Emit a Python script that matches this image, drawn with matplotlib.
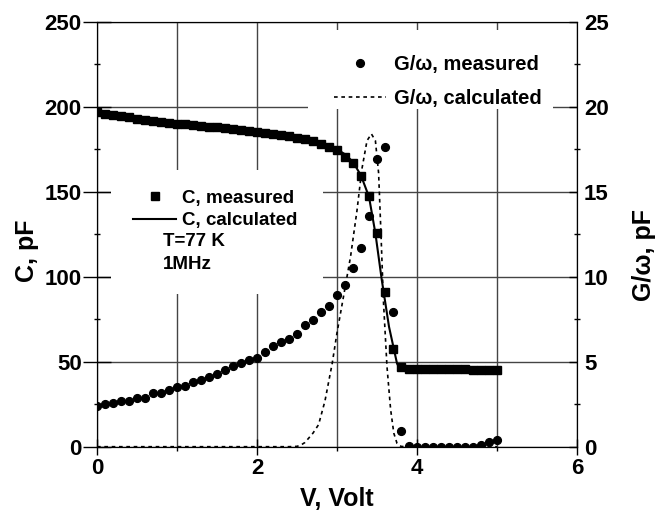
import numpy as np
import matplotlib
matplotlib.use("Agg")
import matplotlib.pyplot as plt
from matplotlib.patches import Rectangle

plt.rcParams['font.family'] = ['Liberation Sans', 'DejaVu Sans']

# measured points, 0.1 V steps
volts = np.round(np.arange(0, 5.01, 0.1), 2)
c_meas = [197.0, 196.0, 195.2, 194.4, 193.7, 193.0, 192.3, 191.7, 191.1, 190.6,
          190.1, 189.6, 189.1, 188.7, 188.2, 187.8, 187.3, 186.8, 186.3, 185.8,
          185.3, 184.7, 184.1, 183.4, 182.7, 181.8, 180.8, 179.6, 178.2, 176.5,
          174.5, 170.6, 166.7, 159.2, 147.6, 126.0, 90.8, 57.5, 47.0, 46.0,
          45.8, 45.7, 45.7, 45.6, 45.6, 45.5, 45.5, 45.4, 45.4, 45.3, 45.2]
g_meas = [2.4, 2.5, 2.55, 2.7, 2.7, 2.85, 2.85, 3.15, 3.15, 3.35,
          3.5, 3.6, 3.8, 3.95, 4.1, 4.25, 4.5, 4.75, 4.95, 5.1,
          5.2, 5.6, 5.9, 6.15, 6.35, 6.65, 7.15, 7.45, 7.9, 8.25,
          8.9, 9.5, 10.5, 11.7, 13.6, 16.9, 17.6, 7.9, 0.95, 0.05,
          0, 0, 0, 0, 0, 0, 0, 0, 0.1, 0.25, 0.4]

# calculated curves
v_ccalc = [0, 0.5, 1.0, 1.5, 2.0, 2.5, 2.8, 3.0, 3.1, 3.2, 3.3, 3.4, 3.48,
           3.56, 3.65, 3.75, 3.78, 3.8, 4.0, 5.0]
c_calc = [197, 193, 190.1, 187.8, 185.3, 181.8, 178.2, 175, 172, 167.5, 159.5,
          147, 125.5, 98, 70.6, 49, 46.3, 45.8, 45.6, 45.2]
v_gcalc = [0, 2.0, 2.4, 2.5, 2.55, 2.6, 2.7, 2.77, 2.85, 2.94, 3.0, 3.08, 3.17,
           3.25, 3.31, 3.375, 3.43, 3.48, 3.52, 3.55, 3.58, 3.625, 3.67, 3.71,
           3.75, 3.8, 3.85, 5.0]
g_calc = [0, 0, 0, 0.02, 0.1, 0.25, 0.8, 1.3, 2.7, 4.9, 6.7, 8.8, 11.2,
          13.9, 16.3, 18.0, 18.4, 18.0, 16.1, 12.5, 8.6, 4.7, 2.2, 0.8,
          0.2, 0.02, 0, 0]

fig = plt.figure(figsize=(6.65, 5.15), dpi=100)
ax = fig.add_axes([97 / 665, 1 - 446.7 / 515, 480 / 665, 425 / 515])
ax2 = ax.twinx()

ax.set_xlim(0, 6)
ax.set_ylim(0, 250)
ax2.set_ylim(0, 25)

ax.set_xticks([0, 2, 4, 6])
ax.set_xticks([1, 3, 5], minor=True)
ax.set_yticks(np.arange(0, 251, 50))
ax.set_yticks(np.arange(25, 250, 50), minor=True)
ax2.set_yticks(np.arange(0, 26, 5))
ax2.set_yticks(np.arange(2.5, 25, 5), minor=True)

ax.grid(True, which='both', axis='x', color='#444444', lw=1)
ax.grid(True, which='major', axis='y', color='#444444', lw=1)

# white areas behind the legends hide the grid
ax.add_patch(Rectangle((0.03, 0.36), 0.44, 0.292, transform=ax.transAxes,
                       fc='white', ec='none', zorder=1.6))
ax.add_patch(Rectangle((0.44, 0.795), 0.51, 0.185, transform=ax.transAxes,
                       fc='white', ec='none', zorder=1.6))

ax.plot(v_ccalc, c_calc, '-', color='black', lw=1.5, label='C, calculated', zorder=3)
ax.plot(volts, c_meas, 's', color='black', ms=5.6, label='C, measured', zorder=4)
ax2.plot(v_gcalc, g_calc, color='black', lw=1.2, ls=(0, (2.2, 2.2)),
         label='G/ω, calculated')
ax2.plot(volts, g_meas, 'o', color='black', ms=5.6, label='G/ω, measured')

h, l = ax.get_legend_handles_labels()
ax.legend([h[1], h[0]], [l[1], l[0]], loc='upper left', bbox_to_anchor=(0.04, 0.645),
          frameon=False, numpoints=1, handlelength=2.3, handletextpad=0.3,
          labelspacing=0.3, prop={'size': 13.5, 'weight': 'bold'})
h2, l2 = ax2.get_legend_handles_labels()
ax2.legend([h2[1], h2[0]], [l2[1], l2[0]], loc='upper left', bbox_to_anchor=(0.455, 0.965),
           frameon=False, numpoints=1, handlelength=2.6, handletextpad=0.4,
           labelspacing=0.75, prop={'size': 14.5, 'weight': 'bold'})

ax.text(0.82, 121, 'T=77 K', fontsize=13.5, fontweight='bold', va='center')
ax.text(0.82, 107, '1MHz', fontsize=13.5, fontweight='bold', va='center')

ax.tick_params(axis='y', which='major', direction='inout', length=20, width=1,
               labelsize=16, pad=1)
ax.tick_params(axis='y', which='minor', direction='inout', length=5, width=1)
ax.tick_params(axis='x', which='major', direction='inout', length=12, width=1,
               labelsize=16, pad=2)
ax.tick_params(axis='x', which='minor', direction='out', length=3, width=1)
ax2.tick_params(axis='y', which='major', direction='in', length=6, width=1,
                labelsize=16, pad=5)
ax2.tick_params(axis='y', which='minor', direction='inout', length=5, width=1)

for a in (ax, ax2):
    for lab in a.get_xticklabels() + a.get_yticklabels():
        lab.set_fontweight('bold')

ax.set_xlabel('V, Volt', fontsize=18, fontweight='bold', labelpad=6)
ax.set_ylabel('C, pF', fontsize=18, fontweight='bold')
ax2.set_ylabel('G/ω, pF', fontsize=18, fontweight='bold')
ax.yaxis.set_label_coords(-0.12, 0.46)
ax2.yaxis.set_label_coords(1.115, 0.45)

fig.savefig('out.png', dpi=100)
